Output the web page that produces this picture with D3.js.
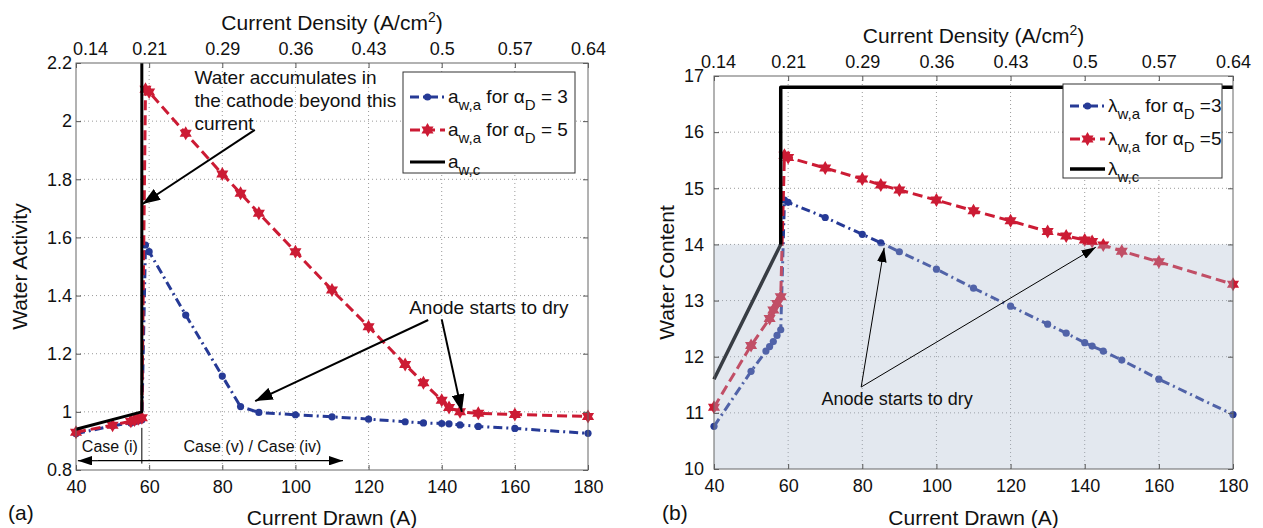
<!DOCTYPE html>
<html>
<head>
<meta charset="utf-8">
<script src="https://cdn.jsdelivr.net/npm/d3@7"></script>
<style>
  body { margin: 0; background: #fff; }
  svg text { font-family: "Liberation Sans", Arial, sans-serif; fill: #111; }
</style>
</head>
<body>
<svg id="chart" width="1263" height="528"></svg>
<script>
// shared axes
const currentTicks = [40, 60, 80, 100, 120, 140, 160, 180];
const densityLabels = ["0.14", "0.21", "0.29", "0.36", "0.43", "0.5", "0.57", "0.64"];
const activityTicks = [0.8, 1, 1.2, 1.4, 1.6, 1.8, 2, 2.2];
const contentTicks = [10, 11, 12, 13, 14, 15, 16, 17];

// (a) water activity
const awaD3Current = [40, 50, 55, 56, 57, 58, 59, 60, 70, 80, 85, 90, 100, 110, 120, 130, 135, 140, 142, 145, 150, 160, 180];
const awaD3 = [0.925, 0.952, 0.962, 0.966, 0.969, 0.972, 1.574, 1.551, 1.333, 1.123, 1.018, 0.998, 0.99, 0.983, 0.975, 0.966, 0.962, 0.96, 0.959, 0.955, 0.95, 0.943, 0.926];
const awaD5Current = [40, 50, 55, 56, 57, 58, 59, 60, 70, 80, 85, 90, 100, 110, 120, 130, 135, 140, 142, 145, 150, 160, 180];
const awaD5 = [0.93, 0.954, 0.968, 0.972, 0.976, 0.98, 2.11, 2.10, 1.958, 1.818, 1.752, 1.683, 1.551, 1.419, 1.293, 1.163, 1.10, 1.04, 1.015, 1.0, 0.995, 0.991, 0.984];
const awcCurrent = [40, 58, 58];
const awc = [0.94, 1.0, 2.2];

// (b) water content
const lamD3Current = [40, 50, 54, 55, 56, 57, 58, 59, 60, 70, 80, 85, 90, 100, 110, 120, 130, 135, 140, 142, 145, 150, 160, 180];
const lamD3 = [10.76, 11.74, 12.1, 12.18, 12.27, 12.38, 12.48, 14.79, 14.75, 14.48, 14.18, 14.03, 13.87, 13.56, 13.22, 12.9, 12.58, 12.42, 12.25, 12.19, 12.1, 11.94, 11.6, 10.97];
const lamD5Current = [40, 50, 55, 56, 57, 58, 59, 60, 70, 80, 85, 90, 100, 110, 120, 130, 135, 140, 142, 145, 150, 160, 180];
const lamD5 = [11.1, 12.2, 12.68, 12.83, 12.95, 13.07, 15.59, 15.55, 15.36, 15.165, 15.06, 14.97, 14.79, 14.6, 14.42, 14.23, 14.15, 14.08, 14.05, 13.99, 13.88, 13.69, 13.29];
const lamcCurrent = [40, 58, 58, 180];
const lamc = [11.6, 14.0, 16.8, 16.8];
const dryLimit = 14;

const blue = "#263a96", red = "#cc1b34";

const svg = d3.select("#chart");
const defs = svg.append("defs");
[["headBig", 11, 8], ["headSmall", 9, 6]].forEach(([id, w, h]) => {
    defs.append("marker").attr("id", id)
        .attr("viewBox", `0 0 ${w} ${h}`).attr("refX", w).attr("refY", h / 2)
        .attr("markerUnits", "userSpaceOnUse")
        .attr("markerWidth", w * 1.6).attr("markerHeight", h * 1.6)
        .attr("orient", "auto")
        .append("path").attr("d", `M0,0L${w},${h / 2}L0,${h}Z`).attr("fill", "#000");
});

function hexagram(r) {
    const p = d3.path();
    [[-90, 30, 150], [90, 210, 330]].forEach(tri => {
        tri.forEach((a, i) => {
            const t = a * Math.PI / 180;
            i === 0 ? p.moveTo(r * Math.cos(t), r * Math.sin(t)) : p.lineTo(r * Math.cos(t), r * Math.sin(t));
        });
        p.closePath();
    });
    return p.toString();
}

function drawSeries(g, x, y, xs, ys, style) {
    const pts = xs.map((v, i) => [v, ys[i]]);
    g.append("path").datum(pts)
        .attr("d", d3.line().x(d => x(d[0])).y(d => y(d[1])))
        .attr("fill", "none").attr("stroke", style.color)
        .attr("stroke-width", style.width || 3)
        .attr("stroke-dasharray", style.dash || null)
        .attr("stroke-linejoin", "round");
    if (style.marker === "dot") {
        g.append("g").selectAll("circle").data(pts).join("circle")
            .attr("cx", d => x(d[0])).attr("cy", d => y(d[1])).attr("r", 3.6)
            .attr("fill", style.color);
    } else if (style.marker === "star") {
        g.append("g").selectAll("path").data(pts).join("path")
            .attr("transform", d => `translate(${x(d[0])},${y(d[1])})`)
            .attr("d", hexagram(7)).attr("fill", style.color);
    }
}

function legendText(sel, parts, size) {
    parts.forEach(([t, sub], i) => {
        const prevSub = i > 0 && parts[i - 1][1];
        sel.append("tspan").text(t)
            .attr("font-size", sub ? size - 4 : size)
            .attr("dy", sub ? 7 : (prevSub ? -7 : 0));
    });
}

function drawPanel(o) {
    const g = svg.append("g");
    const x = d3.scaleLinear().domain([40, 180]).range([o.left, o.right]);
    const y = d3.scaleLinear().domain(o.yDomain).range([o.bottom, o.top]);

    // grid
    g.append("g").selectAll("line").data(currentTicks.slice(1, -1)).join("line")
        .attr("x1", d => x(d)).attr("x2", d => x(d)).attr("y1", o.top).attr("y2", o.bottom)
        .attr("stroke", "#9a9a9a").attr("stroke-dasharray", "1,3");
    g.append("g").selectAll("line").data(o.yTicks.slice(1, -1)).join("line")
        .attr("y1", d => y(d)).attr("y2", d => y(d)).attr("x1", o.left).attr("x2", o.right)
        .attr("stroke", "#9a9a9a").attr("stroke-dasharray", "1,3");

    o.series.forEach(s => drawSeries(g, x, y, s.xs, s.ys, s));

    if (o.shadeBelow !== undefined) {
        g.append("rect")
            .attr("x", o.left).attr("width", o.right - o.left)
            .attr("y", y(o.shadeBelow)).attr("height", y(o.yDomain[0]) - y(o.shadeBelow))
            .attr("fill", "rgba(170,184,206,0.33)");
    }

    const styleAxis = a => {
        a.select(".domain").remove();
        a.selectAll(".tick line").attr("stroke", "#555");
        a.selectAll(".tick text").attr("fill", "#111");
        a.attr("font-size", 18).attr("font-family", "Liberation Sans, Arial, sans-serif");
    };
    g.append("g").attr("transform", `translate(0,${o.bottom})`)
        .call(d3.axisBottom(x).tickValues(currentTicks).tickSizeInner(-5).tickSizeOuter(0).tickPadding(10))
        .call(styleAxis);
    g.append("g").attr("transform", `translate(0,${o.top})`)
        .call(d3.axisTop(x).tickValues(currentTicks).tickFormat((d, i) => densityLabels[i])
            .tickSizeInner(-5).tickSizeOuter(0).tickPadding(8))
        .call(styleAxis)
        .call(a => a.selectAll(".tick text").filter((d, i) => i === 0).attr("dx", o.firstTopDx));
    g.append("g").attr("transform", `translate(${o.left},0)`)
        .call(d3.axisLeft(y).tickValues(o.yTicks).tickFormat(d3.format("~g"))
            .tickSizeInner(-5).tickSizeOuter(0).tickPadding(o.yPad))
        .call(styleAxis);
    g.append("g").attr("transform", `translate(${o.right},0)`)
        .call(d3.axisRight(y).tickValues(o.yTicks).tickFormat("").tickSizeInner(-5).tickSizeOuter(0))
        .call(styleAxis);
    g.append("rect").attr("x", o.left).attr("y", o.top)
        .attr("width", o.right - o.left).attr("height", o.bottom - o.top)
        .attr("fill", "none").attr("stroke", "#666");

    // titles
    const cx = (o.left + o.right) / 2;
    const top = g.append("text").attr("x", cx).attr("y", o.top - 33)
        .attr("text-anchor", "middle").attr("font-size", 21);
    top.append("tspan").text("Current Density (A/cm");
    top.append("tspan").text("2").attr("font-size", 14).attr("dy", -8);
    top.append("tspan").text(")").attr("dy", 8);
    g.append("text").attr("x", cx).attr("y", 525).attr("text-anchor", "middle")
        .attr("font-size", 21).text("Current Drawn (A)");
    g.append("text").attr("transform", `translate(${o.yTitleX},${(o.top + o.bottom) / 2}) rotate(-90)`)
        .attr("text-anchor", "middle").attr("font-size", 21).text(o.yTitle);
    g.append("text").attr("x", o.tagX).attr("y", 520).attr("font-size", 21).text(o.tag);

    // legend
    const L = o.legend;
    const lg = g.append("g").attr("transform", `translate(${o.left + L.dx},${o.top + L.dy})`);
    lg.append("rect").attr("width", L.w).attr("height", L.h)
        .attr("fill", "#fff").attr("stroke", "#333");
    L.items.forEach((it, i) => {
        const s = o.series[i];
        const row = lg.append("g").attr("transform", `translate(0,${L.rows[i]})`);
        row.append("line").attr("x1", 7).attr("x2", 42)
            .attr("stroke", s.color).attr("stroke-width", s.width || 3)
            .attr("stroke-dasharray", s.dash || null);
        if (s.marker === "dot") row.append("circle").attr("cx", 24.5).attr("r", 3.6).attr("fill", s.color);
        if (s.marker === "star") row.append("path").attr("transform", "translate(24.5,0)")
            .attr("d", hexagram(7)).attr("fill", s.color);
        legendText(row.append("text").attr("x", 45).attr("y", 6), it, 19);
    });

    return { g, x, y };
}

// ---------- panel (a)
const pa = drawPanel({
    left: 76, right: 588, top: 63, bottom: 470,
    yDomain: [0.8, 2.2], yTicks: activityTicks, yPad: 4, firstTopDx: 14,
    yTitle: "Water Activity", yTitleX: 27, tag: "(a)", tagX: 8,
    series: [
        { xs: awaD3Current, ys: awaD3, color: blue, dash: "9,4,2,4", marker: "dot" },
        { xs: awaD5Current, ys: awaD5, color: red, dash: "10,5", marker: "star" },
        { xs: awcCurrent, ys: awc, color: "#000" }
    ],
    legend: {
        dx: 327, dy: 9, w: 172, h: 101, rows: [25, 58, 90],
        items: [
            [["a", 0], ["w,a", 1], [" for α", 0], ["D", 1], [" = 3", 0]],
            [["a", 0], ["w,a", 1], [" for α", 0], ["D", 1], [" = 5", 0]],
            [["a", 0], ["w,c", 1]]
        ]
    }
});

const noteA = ["Water accumulates in", "the cathode beyond this", "current"];
pa.g.append("text").attr("x", pa.x(72.4)).attr("y", pa.y(2.128)).attr("font-size", 19)
    .selectAll("tspan").data(noteA).join("tspan")
    .attr("x", pa.x(72.4)).attr("dy", (d, i) => i ? 23 : 0).text(d => d);
pa.g.append("text").attr("x", pa.x(152.9)).attr("y", pa.y(1.335)).attr("text-anchor", "middle")
    .attr("font-size", 19).text("Anode starts to dry");

const arrowsA = [[88.9, 1.97, 58.2, 1.715], [136.3, 1.316, 89, 1.037], [140, 1.318, 145.5, 1.0]];
pa.g.append("g").selectAll("line").data(arrowsA).join("line")
    .attr("x1", d => pa.x(d[0])).attr("y1", d => pa.y(d[1]))
    .attr("x2", d => pa.x(d[2])).attr("y2", d => pa.y(d[3]))
    .attr("stroke", "#000").attr("stroke-width", 2).attr("marker-end", "url(#headBig)");

// case markers
pa.g.append("text").attr("x", pa.x(41.6)).attr("y", pa.y(0.862)).attr("font-size", 16).text("Case (i)");
pa.g.append("text").attr("x", pa.x(69.4)).attr("y", pa.y(0.862)).attr("font-size", 16).text("Case (v) / Case (iv)");
pa.g.append("line").attr("x1", pa.x(58)).attr("x2", pa.x(58))
    .attr("y1", pa.y(0.945)).attr("y2", pa.y(0.822)).attr("stroke", "#000");
pa.g.append("line").attr("x1", pa.x(46)).attr("x2", pa.x(40.5))
    .attr("y1", pa.y(0.832)).attr("y2", pa.y(0.832)).attr("stroke", "#000").attr("stroke-width", 1.2)
    .attr("marker-end", "url(#headSmall)");
pa.g.append("line").attr("x1", pa.x(46)).attr("x2", pa.x(113))
    .attr("y1", pa.y(0.832)).attr("y2", pa.y(0.832)).attr("stroke", "#000").attr("stroke-width", 1.2)
    .attr("marker-end", "url(#headSmall)");

// ---------- panel (b)
const pb = drawPanel({
    left: 714, right: 1233, top: 76, bottom: 469,
    yDomain: [10, 17], yTicks: contentTicks, yPad: 10, firstTopDx: 4,
    yTitle: "Water Content", yTitleX: 674, tag: "(b)", tagX: 662,
    shadeBelow: dryLimit,
    series: [
        { xs: lamD3Current, ys: lamD3, color: blue, dash: "9,4,2,4", marker: "dot" },
        { xs: lamD5Current, ys: lamD5, color: red, dash: "10,5", marker: "star" },
        { xs: lamcCurrent, ys: lamc, color: "#000", width: 3.5 }
    ],
    legend: {
        dx: 349, dy: 8, w: 159, h: 94, rows: [22, 55, 85],
        items: [
            [["λ", 0], ["w,a", 1], [" for α", 0], ["D", 1], [" =3", 0]],
            [["λ", 0], ["w,a", 1], [" for α", 0], ["D", 1], [" =5", 0]],
            [["λ", 0], ["w,c", 1]]
        ]
    }
});

pb.g.append("text").attr("x", pb.x(89.4)).attr("y", pb.y(11.14)).attr("text-anchor", "middle")
    .attr("font-size", 18).text("Anode starts to dry");
const arrowsB = [[79.7, 11.46, 85.9, 13.94], [79.7, 11.46, 143, 13.95]];
pb.g.append("g").selectAll("line").data(arrowsB).join("line")
    .attr("x1", d => pb.x(d[0])).attr("y1", d => pb.y(d[1]))
    .attr("x2", d => pb.x(d[2])).attr("y2", d => pb.y(d[3]))
    .attr("stroke", "#000").attr("stroke-width", 1).attr("marker-end", "url(#headSmall)");
</script>
</body>
</html>
